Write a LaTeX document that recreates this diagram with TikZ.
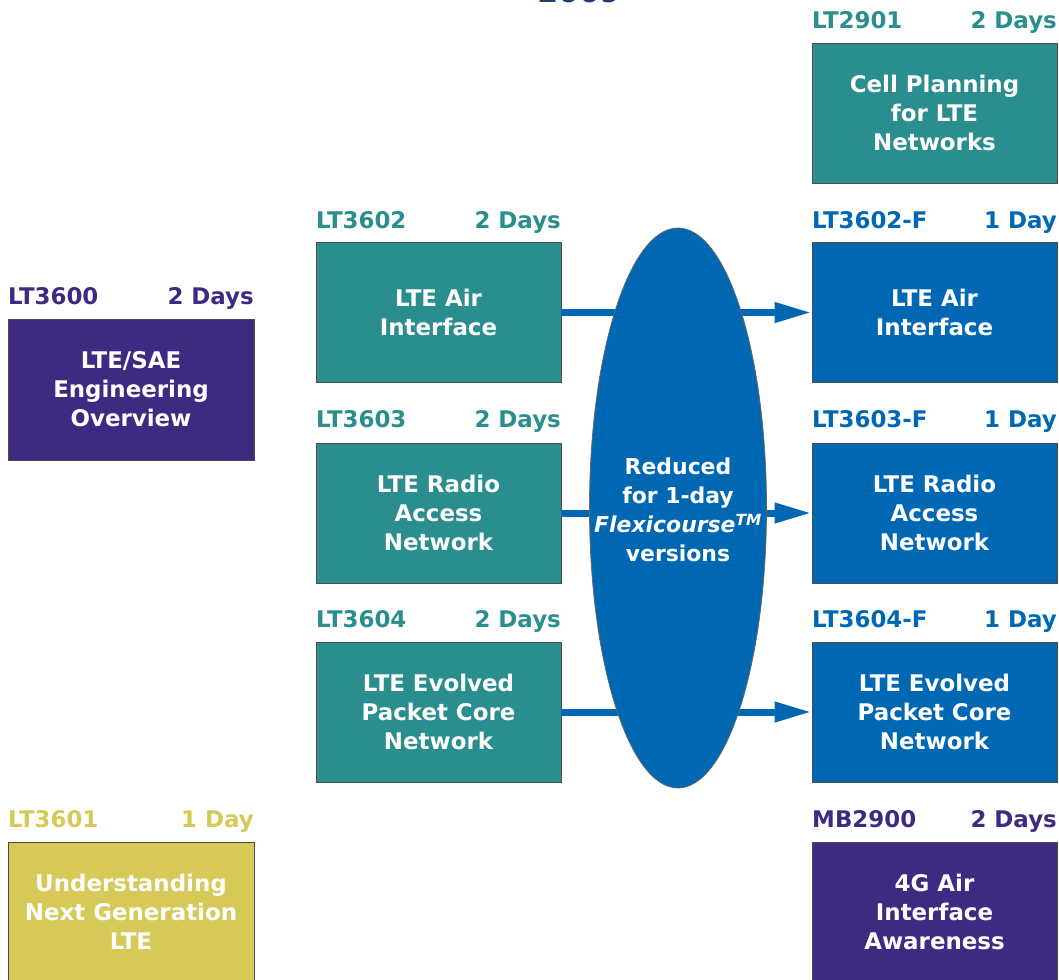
\documentclass[tikz,border=0pt]{standalone}
\usepackage{fontspec}
\setmainfont{DejaVu Sans}
\usetikzlibrary{arrows.meta,shapes.geometric}
\definecolor{cteal}{HTML}{2A8E8F}
\definecolor{cblue}{HTML}{0068B3}
\definecolor{cpurple}{HTML}{3F2A82}
\definecolor{cyellow}{HTML}{D6C957}
\definecolor{cnavy}{HTML}{1F3A6E}
\tikzset{
  course/.style={draw=black!70, line width=0.8bp, minimum width=245bp, minimum height=140bp,
    text=white, font=\bfseries\fontsize{23}{29}\selectfont, align=center, inner sep=0pt},
  codelbl/.style={font=\bfseries\fontsize{23}{26}\selectfont, anchor=base west, inner sep=0pt},
  dayslbl/.style={font=\bfseries\fontsize{23}{26}\selectfont, anchor=base east, inner sep=0pt},
  flow/.style={draw=cblue, line width=7bp, -{Triangle[length=37bp,width=19bp]}},
}
\begin{document}
\begin{tikzpicture}[x=1bp,y=-1bp]
\useasboundingbox (0,0) rectangle (1059,980);
\node[font=\bfseries\fontsize{30}{36}\selectfont, text=cnavy, anchor=base, inner sep=0pt] (yr) at (579,2.5) {2009};

% left column
\node[codelbl, text=cpurple] (c3600) at (8,304) {LT3600};
\node[dayslbl, text=cpurple] (d3600) at (254,304) {2 Days};
\node[course, fill=cpurple, minimum width=246bp, minimum height=141bp] (lt3600) at (131,389.5) {LTE/SAE\\Engineering\\Overview};

\node[codelbl, text=cyellow] (c3601) at (8,827) {LT3601};
\node[dayslbl, text=cyellow] (d3601) at (254,827) {1 Day};
\node[course, fill=cyellow, minimum width=246bp] (lt3601) at (131,912) {Understanding\\Next Generation\\LTE};

% middle column
\node[codelbl, text=cteal] (c3602) at (316,228) {LT3602};
\node[dayslbl, text=cteal] (d3602) at (561,228) {2 Days};
\node[course, fill=cteal] (lt3602) at (438.5,312.5) {LTE Air\\Interface};

\node[codelbl, text=cteal] (c3603) at (316,427) {LT3603};
\node[dayslbl, text=cteal] (d3603) at (561,427) {2 Days};
\node[course, fill=cteal] (lt3603) at (438.5,513) {LTE Radio\\Access\\Network};

\node[codelbl, text=cteal] (c3604) at (316,627) {LT3604};
\node[dayslbl, text=cteal] (d3604) at (561,627) {2 Days};
\node[course, fill=cteal] (lt3604) at (438.5,712) {LTE Evolved\\Packet Core\\Network};

% right column
\node[codelbl, text=cteal] (c2901) at (812,28) {LT2901};
\node[dayslbl, text=cteal] (d2901) at (1057,28) {2 Days};
\node[course, fill=cteal] (lt2901) at (934.5,113) {Cell Planning\\for LTE\\Networks};

\node[codelbl, text=cblue] (c3602f) at (812,228) {LT3602-F};
\node[dayslbl, text=cblue] (d3602f) at (1057,228) {1 Day};
\node[course, fill=cblue] (lt3602f) at (934.5,312.5) {LTE Air\\Interface};

\node[codelbl, text=cblue] (c3603f) at (812,427) {LT3603-F};
\node[dayslbl, text=cblue] (d3603f) at (1057,427) {1 Day};
\node[course, fill=cblue] (lt3603f) at (934.5,513) {LTE Radio\\Access\\Network};

\node[codelbl, text=cblue] (c3604f) at (812,627) {LT3604-F};
\node[dayslbl, text=cblue] (d3604f) at (1057,627) {1 Day};
\node[course, fill=cblue] (lt3604f) at (934.5,712) {LTE Evolved\\Packet Core\\Network};

\node[codelbl, text=cpurple] (c2900) at (812,827) {MB2900};
\node[dayslbl, text=cpurple] (d2900) at (1057,827) {2 Days};
\node[course, fill=cpurple] (mb2900) at (934.5,912) {4G Air\\Interface\\Awareness};

% arrows
\draw[flow] (lt3602.east) -- (lt3602f.west);
\draw[flow] (lt3603.east) -- (lt3603f.west);
\draw[flow] (lt3604.east) -- (lt3604f.west);

% ellipse
\node[ellipse, draw=black!60, line width=0.8bp, fill=cblue, minimum width=177bp, minimum height=560bp,
  inner sep=0pt] (flex) at (678,508) {};
\node[text=white, align=center, inner sep=0pt, font=\bfseries\fontsize{22}{29}\selectfont] (flextext) at (678,510)
  {Reduced\\for 1-day\\\textit{Flexicourse}\textsuperscript{\textit{TM}}\\versions};
\end{tikzpicture}
\end{document}
